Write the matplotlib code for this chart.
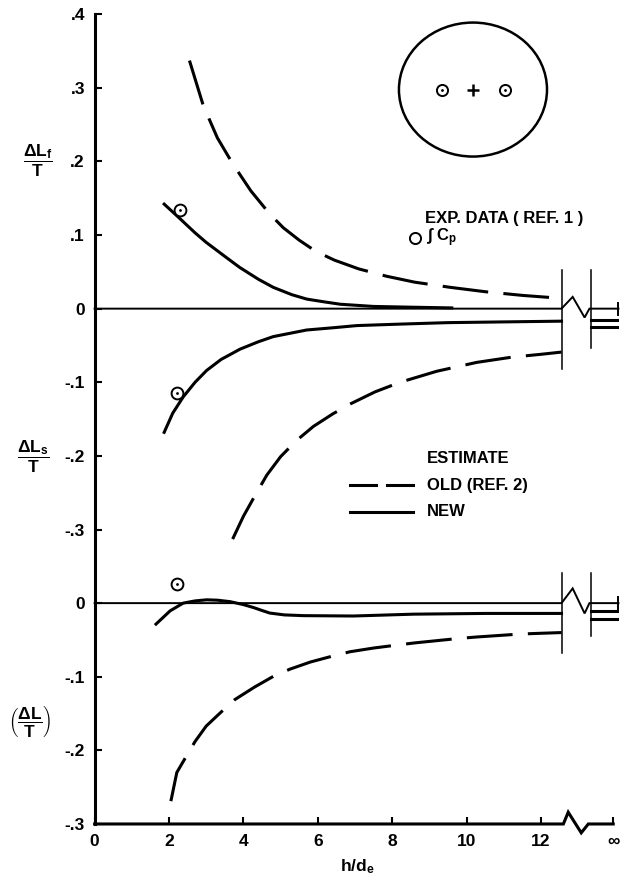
import numpy as np
import matplotlib
matplotlib.use("Agg")
import matplotlib.pyplot as plt
from matplotlib.patches import Ellipse

plt.rcParams['font.family'] = ['Liberation Sans', 'DejaVu Sans']
plt.rcParams['font.weight'] = 'bold'
plt.rcParams['mathtext.fontset'] = 'custom'
plt.rcParams['mathtext.rm'] = 'Liberation Sans:bold'
plt.rcParams['mathtext.it'] = 'Liberation Sans:bold'
plt.rcParams['mathtext.bf'] = 'Liberation Sans:bold'
plt.rcParams['mathtext.sf'] = 'Liberation Sans:bold'

############## Daten ##############
# oberes Feld: dLf/T
lf_new_x = [1.87, 2.3, 2.7, 3.0, 3.5, 3.9, 4.4, 4.8, 5.3, 5.7, 6.2, 6.6, 7.5, 8.5, 9.6]
lf_new_y = [0.142, 0.122, 0.103, 0.090, 0.071, 0.056, 0.040, 0.029, 0.019, 0.013, 0.009, 0.006, 0.003, 0.002, 0.001]
lf_old_x = [2.55, 2.92, 3.3, 3.71, 4.2, 4.7, 5.07, 5.5, 5.94, 6.44, 7.1, 7.85, 8.6, 9.55, 10.5, 11.5, 12.55]
lf_old_y = [0.337, 0.276, 0.232, 0.197, 0.160, 0.129, 0.110, 0.093, 0.078, 0.066, 0.054, 0.044, 0.036, 0.029, 0.023, 0.018, 0.014]

# mittleres Feld: dLs/T
ls_new_x = [1.87, 2.1, 2.38, 2.7, 3.01, 3.4, 3.91, 4.4, 4.8, 5.3, 5.7, 6.4, 7.05, 8.21, 9.5, 11.0, 12.55]
ls_new_y = [-0.168, -0.142, -0.120, -0.100, -0.084, -0.069, -0.055, -0.045, -0.038, -0.033, -0.029, -0.026, -0.023, -0.021, -0.019, -0.018, -0.017]
ls_old_x = [3.71, 4.0, 4.31, 4.63, 5.0, 5.43, 5.88, 6.4, 6.89, 7.54, 8.21, 9.2, 10.27, 11.2, 12.0, 12.55]
ls_old_y = [-0.313, -0.282, -0.254, -0.226, -0.201, -0.179, -0.160, -0.143, -0.129, -0.113, -0.100, -0.085, -0.073, -0.066, -0.062, -0.059]

# unteres Feld: dL/T
l_new_x = [1.65, 2.03, 2.38, 2.7, 3.01, 3.3, 3.64, 4.0, 4.27, 4.5, 4.71, 5.1, 5.61, 6.95, 8.57, 10.5, 12.55]
l_new_y = [-0.0285, -0.0105, 0.0, 0.003, 0.0045, 0.004, 0.002, -0.002, -0.006, -0.010, -0.0135, -0.016, -0.017, -0.0175, -0.015, -0.014, -0.014]
l_old_x = [2.05, 2.21, 2.43, 2.7, 3.0, 3.4, 3.77, 4.3, 4.8, 5.25, 5.8, 6.42, 6.87, 7.5, 8.12, 8.61, 9.78, 10.27, 11.44, 11.97, 12.55]
l_old_y = [-0.269, -0.230, -0.211, -0.188, -0.167, -0.148, -0.131, -0.114, -0.0996, -0.0897, -0.080, -0.0716, -0.066, -0.061, -0.057, -0.054, -0.048, -0.046, -0.042, -0.041, -0.040]

# Messpunkte (Ref. 1), je Feld einer
exp_x = [2.30, 2.22, 2.21]
exp_y = [0.134, -0.114, 0.026]

# Werte bei h/de = unendlich
inf_upper = [-0.015, -0.025]
inf_lower = [-0.011, -0.022]

LOWER = -0.4   # Verschiebung des unteren Feldes

ytick_pos = [0.4, 0.3, 0.2, 0.1, 0.0, -0.1, -0.2, -0.3, -0.4, -0.5, -0.6, -0.7]
ytick_lab = [".4", ".3", ".2", ".1", "0", "-.1", "-.2", "-.3", "0", "-.1", "-.2", "-.3"]
xtick_pos = [0, 2, 4, 6, 8, 10, 12, 13.94]
xtick_lab = ["0", "2", "4", "6", "8", "10", "12", "\u221e"]

############## Zeichnen ##############
fig = plt.figure(figsize=(6.29, 8.86), dpi=100)
ax = fig.add_axes([0.1504, 0.070, 0.834, 0.914])
ax.set_xlim(0, 14.1)
ax.set_ylim(-0.7, 0.4)

lw = 2.2
dash = (15, 5)

ax.plot(lf_new_x, lf_new_y, color="k", lw=lw)
ax.plot(lf_old_x, lf_old_y, color="k", lw=lw, dashes=dash)
ax.plot(ls_new_x, ls_new_y, color="k", lw=lw)
ax.plot(ls_old_x, ls_old_y, color="k", lw=lw, dashes=dash)
ax.plot(l_new_x, np.array(l_new_y) + LOWER, color="k", lw=lw)
ax.plot(l_old_x, np.array(l_old_y) + LOWER, color="k", lw=lw, dashes=dash)

ey = np.array(exp_y) + np.array([0, 0, LOWER])
ax.plot(exp_x, ey, "o", ms=8.5, mfc="white", mec="k", mew=1.4, zorder=5)
ax.plot(exp_x, ey, ".", ms=2, color="k", zorder=6)


# Nulllinie mit Bruchstelle
def zero_line(y0, top, bot1, bot2, up, dn):
    ax.plot([0, 12.55, 12.85, 13.17, 13.30, 14.08], [y0, y0, y0 + up, y0 - dn, y0, y0],
            color="k", lw=1.4, solid_joinstyle="miter", clip_on=False)
    ax.plot([14.08, 14.08], [y0 + 0.008, y0 - 0.008], color="k", lw=1.4, clip_on=False)
    ax.plot([12.55, 12.55], [y0 + top, y0 + bot1], color="k", lw=1.1)
    ax.plot([13.35, 13.35], [y0 + top, y0 + bot2], color="k", lw=1.1)


zero_line(0.0, 0.052, -0.082, -0.053, 0.016, 0.012)
zero_line(LOWER, 0.041, -0.068, -0.045, 0.020, 0.014)
for v in inf_upper:
    ax.plot([13.35, 14.08], [v, v], color="k", lw=lw)
for v in inf_lower:
    ax.plot([13.35, 14.08], [v + LOWER, v + LOWER], color="k", lw=lw)

# x-Achse mit Bruchstelle
ax.plot([0, 12.6, 12.73, 13.08, 13.27, 13.94], [-0.7, -0.7, -0.684, -0.712, -0.7, -0.7],
        color="k", lw=2.2, clip_on=False, solid_joinstyle="miter")
ax.spines["bottom"].set_visible(False)
ax.spines["top"].set_visible(False)
ax.spines["right"].set_visible(False)
ax.spines["left"].set_linewidth(2.2)

ax.set_xticks(xtick_pos)
ax.set_xticklabels(xtick_lab)
ax.set_yticks(ytick_pos)
ax.set_yticklabels(ytick_lab)
ax.tick_params(direction="in", length=5, width=1.5, labelsize=12.5, pad=7)
for t in ax.get_xticklabels() + ax.get_yticklabels():
    t.set_fontweight("bold")

ax.set_xlabel(r"h/d$_\mathregular{e}$", fontsize=12.5, fontweight="bold", labelpad=6)

# Achsenbeschriftungen links
ax.text(-1.52, 0.2, r"$\dfrac{\Delta L_f}{T}$", fontsize=12.5, ha="center", va="center")
ax.text(-1.66, -0.202, r"$\dfrac{\Delta L_s}{T}$", fontsize=12.5, ha="center", va="center")
ax.text(-1.74, -0.56, r"$\left(\dfrac{\Delta L}{T}\right)$", fontsize=12.5, ha="center", va="center")

# Skizze oben rechts
ax.add_patch(Ellipse((10.17, 0.2976), 3.98, 0.182, fill=False, lw=1.8, color="k"))
ax.plot([9.33, 11.03], [0.2976, 0.2976], "o", ms=8, mfc="white", mec="k", mew=1.4)
ax.plot([9.33, 11.03], [0.2976, 0.2976], ".", ms=2, color="k")
ax.plot([10.17], [0.2976], "+", ms=8, mew=1.8, color="k")

# Legende
ax.text(8.88, 0.122, "EXP. DATA ( REF. 1 )", fontsize=12, fontweight="bold", va="center")
ax.plot([8.61], [0.096], "o", ms=8, mfc="white", mec="k", mew=1.4)
ax.text(8.91, 0.096, "\u222b C$_\\mathregular{p}$", fontsize=12, fontweight="bold", va="center")
ax.text(8.94, -0.204, "ESTIMATE", fontsize=12, fontweight="bold", va="center")
ax.text(8.94, -0.240, "OLD (REF. 2)", fontsize=12, fontweight="bold", va="center")
ax.text(8.94, -0.276, "NEW", fontsize=12, fontweight="bold", va="center")
ax.plot([6.87, 7.57], [-0.240, -0.240], color="k", lw=lw)
ax.plot([7.86, 8.56], [-0.240, -0.240], color="k", lw=lw)
ax.plot([6.87, 8.56], [-0.276, -0.276], color="k", lw=lw)

plt.savefig("out.png", dpi=100)
